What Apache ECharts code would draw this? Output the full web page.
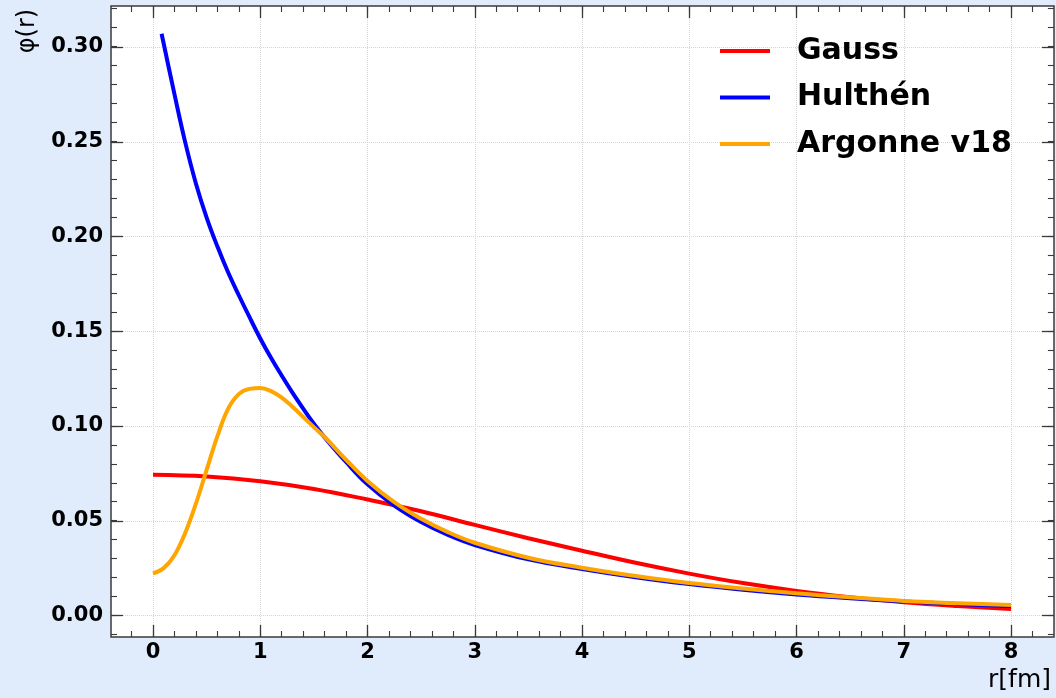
<!DOCTYPE html>
<html>
<head>
<meta charset="utf-8">
<title>φ(r)</title>
<script src="https://cdn.jsdelivr.net/npm/echarts@6/dist/echarts.min.js"></script>
<style>
  html, body { margin: 0; padding: 0; background: #e0ecfc; }
  #chart { width: 1056px; height: 698px; }
</style>
</head>
<body>
<div id="chart"></div>
<script>
// Radial wave functions φ(r), r in fm
const seriesNames = ['Gauss', 'Hulthén', 'Argonne v18'];

const rGauss = [0, 0.5, 1, 1.5, 2, 2.5, 3, 3.5, 4, 4.5, 5, 5.5, 6, 6.5, 7, 7.5, 8];
const phiGauss = [0.0743, 0.0734, 0.0709, 0.0668, 0.0612, 0.0550, 0.0478, 0.0408, 0.0342,
                  0.0278, 0.0221, 0.0171, 0.0130, 0.0097, 0.0070, 0.0050, 0.0034];

const rHulthen = [0.08, 0.1, 0.2, 0.3, 0.4, 0.5, 0.6, 0.7, 0.8, 0.9, 1.0, 1.1, 1.2, 1.3, 1.4, 1.5,
                  1.6, 1.8, 2.0, 2.25, 2.5, 2.75, 3.0, 3.5, 4, 4.5, 5, 5.5, 6, 6.5, 7, 7.5, 8];
const phiHulthen = [0.3070, 0.3017, 0.2751, 0.2498, 0.2280, 0.2100, 0.1948, 0.1811, 0.1690, 0.1574,
                    0.1462, 0.1360, 0.1266, 0.1176, 0.1092, 0.1012, 0.0940, 0.0810, 0.0692, 0.0580,
                    0.0493, 0.0425, 0.0372, 0.0296, 0.0245, 0.0202, 0.0166, 0.0136, 0.0111, 0.0091,
                    0.0074, 0.0061, 0.0050];

const rArgonne = [0, 0.1, 0.2, 0.3, 0.4, 0.5, 0.6, 0.7, 0.8, 0.9, 1.0, 1.1, 1.2, 1.3, 1.4, 1.5,
                  1.6, 1.8, 2.0, 2.25, 2.5, 2.75, 3.0, 3.5, 4, 4.5, 5, 5.5, 6, 6.5, 7, 7.5, 8];
const phiArgonne = [0.0222, 0.0250, 0.0318, 0.0435, 0.0590, 0.0768, 0.0945, 0.1090, 0.1168, 0.1196,
                    0.1200, 0.1184, 0.1150, 0.1102, 0.1048, 0.0994, 0.0942, 0.0822, 0.0710, 0.0598,
                    0.0510, 0.0440, 0.0384, 0.0305, 0.0252, 0.0208, 0.0171, 0.0142, 0.0117, 0.0096,
                    0.0077, 0.0065, 0.0055];

const xTicks = { min: 0, max: 8, step: 1 };
const yTicks = { min: 0, max: 0.30, step: 0.05 };
const xMinor = { min: -0.2, max: 8.2, step: 0.2 };
const yMinor = { min: -0.01, max: 0.32, step: 0.01 };

const xAxisName = 'r[fm]';
const yAxisName = 'φ(r)';

const FONT = '"DejaVu Sans", "Noto Sans", sans-serif';
const INK = '#3a3a3a';

function pairs(xs, ys) { return xs.map((x, i) => [x, ys[i]]); }

const hidden = { show: false };
// axis lines stay hidden and never snap to the zero of the other axis
const noLine = { show: false, onZero: false };
const noGrid = { outerBoundsMode: 'none', containLabel: false };
const majorTick = { show: true, inside: true, length: 12, lineStyle: { color: INK, width: 1.3 } };
const minorTick = { show: true, inside: true, length: 6, lineStyle: { color: INK, width: 1.1 } };
const gridLine = { show: true, lineStyle: { color: '#d4d4d4', type: 'dotted', width: 1 } };

const chart = echarts.init(document.getElementById('chart'), null, { renderer: 'canvas' });

chart.setOption({
  backgroundColor: '#e0ecfc',
  animation: false,
  grid: [
    // 0: plot frame
    Object.assign({ left: 111, right: 2, top: 6, bottom: 61, show: true, backgroundColor: '#ffffff',
                    borderColor: INK, borderWidth: 1.5, z: -1 }, noGrid),
    // 1: vertical grid lines across the full frame height
    Object.assign({ left: 153, right: 45, top: 6, bottom: 61 }, noGrid),
    // 2: horizontal grid lines across the full frame width
    Object.assign({ left: 111, right: 2, top: 47, bottom: 82.5 }, noGrid),
    // 3: data area
    Object.assign({ left: 153, right: 45, top: 47, bottom: 82.5 }, noGrid),
    // 4: minor ticks
    Object.assign({ left: 131.55, right: 23.55, top: 8.6, bottom: 63.5 }, noGrid)
  ],
  xAxis: [
    { gridIndex: 0, type: 'value', min: 0, max: 1, show: false },
    { gridIndex: 1, type: 'value', min: xTicks.min, max: xTicks.max, interval: xTicks.step,
      axisLine: noLine, axisTick: hidden, axisLabel: hidden, splitLine: gridLine },
    { gridIndex: 2, type: 'value', min: 0, max: 1, show: false },
    { gridIndex: 3, type: 'value', position: 'bottom', offset: 21.5,
      min: xTicks.min, max: xTicks.max, interval: xTicks.step,
      axisLine: noLine, splitLine: hidden, axisTick: majorTick,
      axisLabel: { show: true, margin: 5, color: '#000', fontFamily: FONT, fontWeight: 'bold', fontSize: 21 } },
    { gridIndex: 3, type: 'value', position: 'top', offset: 41,
      min: xTicks.min, max: xTicks.max, interval: xTicks.step,
      axisLine: noLine, splitLine: hidden, axisLabel: hidden, axisTick: majorTick },
    { gridIndex: 4, type: 'value', position: 'bottom', offset: 2.5,
      min: xMinor.min, max: xMinor.max, interval: xMinor.step,
      axisLine: noLine, splitLine: hidden, axisLabel: hidden, axisTick: minorTick },
    { gridIndex: 4, type: 'value', position: 'top', offset: 2.6,
      min: xMinor.min, max: xMinor.max, interval: xMinor.step,
      axisLine: noLine, splitLine: hidden, axisLabel: hidden, axisTick: minorTick }
  ],
  yAxis: [
    { gridIndex: 0, type: 'value', min: 0, max: 1, show: false },
    { gridIndex: 1, type: 'value', min: 0, max: 1, show: false },
    { gridIndex: 2, type: 'value', min: yTicks.min, max: yTicks.max, interval: yTicks.step,
      axisLine: noLine, axisTick: hidden, axisLabel: hidden, splitLine: gridLine },
    { gridIndex: 3, type: 'value', position: 'left', offset: 42,
      min: yTicks.min, max: yTicks.max, interval: yTicks.step,
      axisLine: noLine, splitLine: hidden, axisTick: majorTick,
      axisLabel: { show: true, margin: 8, color: '#000', fontFamily: FONT, fontWeight: 'bold', fontSize: 21,
                   formatter: v => v.toFixed(2) } },
    { gridIndex: 3, type: 'value', position: 'right', offset: 43,
      min: yTicks.min, max: yTicks.max, interval: yTicks.step,
      axisLine: noLine, splitLine: hidden, axisLabel: hidden, axisTick: majorTick },
    { gridIndex: 4, type: 'value', position: 'left', offset: 20.55,
      min: yMinor.min, max: yMinor.max, interval: yMinor.step,
      axisLine: noLine, splitLine: hidden, axisLabel: hidden, axisTick: minorTick },
    { gridIndex: 4, type: 'value', position: 'right', offset: 21.45,
      min: yMinor.min, max: yMinor.max, interval: yMinor.step,
      axisLine: noLine, splitLine: hidden, axisLabel: hidden, axisTick: minorTick }
  ],
  legend: {
    orient: 'vertical',
    left: 720,
    top: 36,
    padding: 0,
    itemWidth: 50,
    itemHeight: 4,
    itemGap: 16.5,
    icon: 'rect',
    data: seriesNames,
    textStyle: { color: '#000', fontFamily: FONT, fontWeight: 'bold', fontSize: 30, lineHeight: 30,
                 padding: [0, 0, 0, 22] }
  },
  graphic: [
    { type: 'text', x: 28, y: 31, rotation: Math.PI / 2,
      style: { text: yAxisName, fill: '#000', font: '24px ' + FONT, align: 'center', verticalAlign: 'middle' } },
    { type: 'text', x: 1051, y: 680,
      style: { text: xAxisName, fill: '#000', font: '25px ' + FONT, align: 'right', verticalAlign: 'middle' } }
  ],
  series: [
    { name: seriesNames[0], type: 'line', xAxisIndex: 3, yAxisIndex: 3, data: pairs(rGauss, phiGauss),
      color: '#ff0000', lineStyle: { width: 4, color: '#ff0000' }, showSymbol: false, symbol: 'none',
      smooth: 0.4, clip: false },
    { name: seriesNames[1], type: 'line', xAxisIndex: 3, yAxisIndex: 3, data: pairs(rHulthen, phiHulthen),
      color: '#0000ff', lineStyle: { width: 4, color: '#0000ff' }, showSymbol: false, symbol: 'none',
      smooth: 0.4, clip: false },
    { name: seriesNames[2], type: 'line', xAxisIndex: 3, yAxisIndex: 3, data: pairs(rArgonne, phiArgonne),
      color: '#ffa500', lineStyle: { width: 4, color: '#ffa500' }, showSymbol: false, symbol: 'none',
      smooth: 0.4, clip: false }
  ]
});
</script>
</body>
</html>
